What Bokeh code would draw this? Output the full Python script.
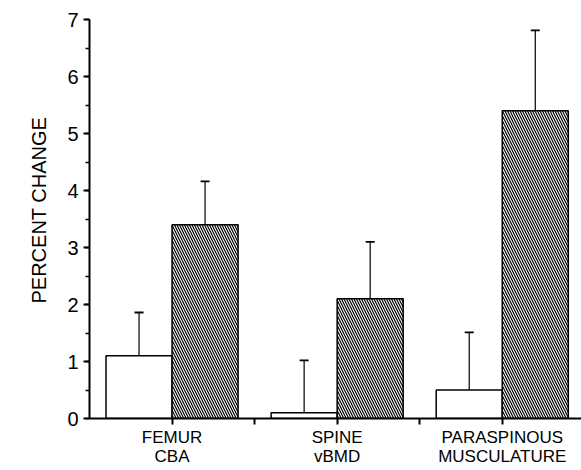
from bokeh.plotting import figure
from bokeh.models import ColumnDataSource, FixedTicker, Whisker, TeeHead, Title
from bokeh.embed import file_html
from bokeh.resources import INLINE

# Data
categories = ["FEMUR\nCBA", "SPINE\nvBMD", "PARASPINOUS\nMUSCULATURE"]
group_pos = [1, 2, 3]
control_values = [1.1, 0.1, 0.5]
control_errors = [0.76, 0.92, 1.01]
treated_values = [3.4, 2.1, 5.4]
treated_errors = [0.76, 1.0, 1.41]
y_label = "PERCENT CHANGE"

offset = 0.2
bar_w = 0.4

ctrl_x = [g - offset for g in group_pos]
trt_x = [g + offset for g in group_pos]

src_c = ColumnDataSource(dict(x=ctrl_x, top=control_values,
                              upper=[v + e for v, e in zip(control_values, control_errors)]))
src_t = ColumnDataSource(dict(x=trt_x, top=treated_values,
                              upper=[v + e for v, e in zip(treated_values, treated_errors)]))

FONT = "Liberation Sans"

p = figure(width=581, height=470, x_range=(0.5, 3.48), y_range=(0, 7),
           output_backend="svg", toolbar_location=None,
           min_border_left=89, min_border_right=0, min_border_top=19,
           min_border_bottom=52)
p.outline_line_color = None
p.grid.visible = False
p.background_fill_color = "white"
p.border_fill_color = "white"

# error bars (upper only)
for src in (src_c, src_t):
    w = Whisker(base="x", lower="top", upper="upper", source=src,
                line_color="black", line_width=1.2,
                upper_head=TeeHead(size=9, line_color="black", line_width=1.8),
                lower_head=None, level="underlay")
    p.add_layout(w)

p.vbar(x="x", top="top", width=bar_w, source=src_c,
       fill_color="white", line_color="black", line_width=1.5)
p.vbar(x="x", top="top", width=bar_w, source=src_t,
       fill_color="white", line_color="black", line_width=1.5,
       hatch_pattern="\\", hatch_color="black", hatch_scale=5, hatch_weight=1.2)

# x axis
xa = p.xaxis[0]
xa.ticker = FixedTicker(ticks=[1, 1.5, 2, 2.5, 3])
xa.major_label_overrides = {1: categories[0], 1.5: "", 2: categories[1],
                            2.5: "", 3: categories[2]}
xa.major_tick_in = 0
xa.major_tick_out = 6
xa.minor_tick_line_color = None
xa.axis_line_width = 2
xa.major_tick_line_width = 2
xa.major_label_text_font = FONT
xa.major_label_text_font_size = "17px"
xa.major_label_text_color = "black"
xa.major_label_standoff = 3
xa.major_label_text_line_height = 1.0
xa.axis_line_color = "black"
xa.major_tick_line_color = "black"

# y axis
ya = p.yaxis[0]
ya.ticker = FixedTicker(ticks=list(range(0, 8)),
                        minor_ticks=[i * 0.5 for i in range(15)])
ya.major_tick_in = 0
ya.major_tick_out = 6
ya.minor_tick_in = 0
ya.minor_tick_out = 4
ya.axis_line_width = 2
ya.major_tick_line_width = 2
ya.minor_tick_line_width = 1.5
ya.major_label_text_font = FONT
ya.major_label_text_font_size = "20px"
ya.major_label_text_color = "black"
ya.major_label_standoff = 5
ya.axis_line_color = "black"
ya.major_tick_line_color = "black"
ya.minor_tick_line_color = "black"

# y axis title as a left-side title
p.add_layout(Title(text=y_label, align="left", offset=115, standoff=30,
                   text_font=FONT, text_font_size="20px",
                   text_font_style="normal", text_color="black"), "left")

open("out.html", "w").write(file_html(p, INLINE))
